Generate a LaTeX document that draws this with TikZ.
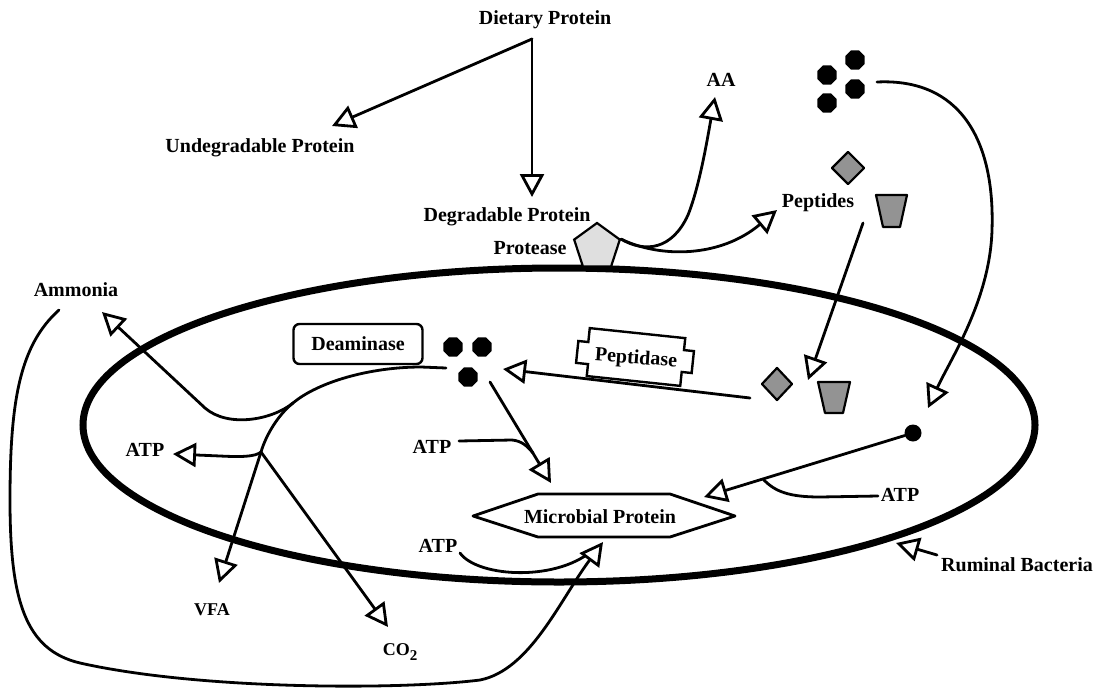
\documentclass[tikz,border=0pt]{standalone}
\usepackage{fontspec}
\setmainfont{Liberation Serif}
\usetikzlibrary{arrows.meta,shapes.geometric}
\begin{document}
\begin{tikzpicture}[x=1pt,y=-1pt,
  lbl/.style={font=\fontsize{20}{22}\selectfont\bfseries, inner sep=0pt},
  sml/.style={font=\fontsize{18}{20}\selectfont\bfseries, inner sep=0pt},
  con/.style={line width=2.8pt, line cap=round, line join=round},
  arr/.style={con, -{Triangle[open,fill=white,length=23pt,width=24pt]}},
  blob/.style={regular polygon, regular polygon sides=8, fill=black, inner sep=0pt, minimum size=21pt},
  grayshape/.style={draw=black, fill=gray!85, line width=2.2pt, line join=round},
]
\useasboundingbox (0,0) rectangle (1099,688);
% membrane
\draw[line width=7pt] (559,425) ellipse [x radius=476pt, y radius=157pt];

% text labels
\node[lbl] (dietary) at (545,20) {Dietary Protein};
\node[lbl] (undeg) at (260,148) {Undegradable Protein};
\node[lbl] (deg) at (507,217) {Degradable Protein};
\node[lbl] (protease) at (530,248) {Protease};
\node[lbl] (aa) at (721,80) {AA};
\node[lbl] (peptides) at (818,203) {Peptides};
\node[lbl] (ammonia) at (76,290) {Ammonia};
\node[lbl, draw, rounded corners=6pt, line width=2.4pt, minimum width=129pt, minimum height=40pt] (deaminase) at (358,344) {Deaminase};
\node[lbl] (atpA) at (145,450) {ATP};
\node[lbl] (atpB) at (432,447) {ATP};
\node[lbl] (atpC) at (900,495) {ATP};
\node[lbl] (atpD) at (438,546) {ATP};
\node[sml] (vfa) at (212,610) {VFA};
\node[sml] (co2) at (400,652) {CO\raisebox{-5pt}{\fontsize{15}{15}\selectfont 2}};
\node[lbl] (rum) at (1017,565) {Ruminal Bacteria};

% coordinates
\coordinate (apex) at (532,39);
\coordinate (undegTip) at (332,126);
\coordinate (degTip) at (532,197);
\coordinate (aaTip) at (715,97);
\coordinate (pepTip) at (777,210);
\coordinate (bigS) at (877,82);
\coordinate (bigTip) at (928,408);
\coordinate (pepS) at (863,223);
\coordinate (pepInTip) at (808,380);
\coordinate (pdS) at (750,398);
\coordinate (eTip) at (503,369);
\coordinate (emS) at (490,382);
\coordinate (mpTop) at (551,483);
\coordinate (mpRT) at (704,497);
\coordinate (mpBot) at (603,542);
\coordinate (ammS) at (59,310);
\coordinate (ammTip) at (102,312);
\coordinate (deS) at (446,368);
\coordinate (br1) at (293,403);
\coordinate (jn) at (261,452);
\coordinate (atpATip) at (173,454);
\coordinate (vfaTip) at (219,583);
\coordinate (co2Tip) at (388,627);
\coordinate (rumS) at (937,555);
\coordinate (rumTip) at (896,543);
\coordinate (aBs) at (459,441);
\coordinate (aCs) at (878,496);
\coordinate (aDs) at (460,553);

% microbial protein hexagon
\draw[con] (473,516) -- (538,494) -- (670,494) -- (735,516) -- (670,537) -- (538,537) -- cycle;
\node[lbl] (micro) at (600,517) {Microbial Protein};

% peptidase
\begin{scope}[shift={(635,357)}, rotate=-6]
\draw[line width=2.4pt, line join=miter] (-48,-24) -- (48,-24) -- (48,-12) -- (58,-12) -- (58,10) -- (48,10) -- (48,24) -- (-46,24) -- (-46,12) -- (-58,12) -- (-58,-10) -- (-48,-10) -- cycle;
\end{scope}
\node[lbl, rotate=-4] (peptidase) at (636,359) {Peptidase};

% connectors
\draw[arr] (apex) -- (undegTip);
\draw[arr] (apex) -- (degTip);

\node[regular polygon, regular polygon sides=5, minimum size=48pt, inner sep=0pt, draw, fill=gray!25, line width=2.2pt] (prot) at (597,247) {};
\draw[arr] (prot.corner 5) .. controls (645,253) and (672,250) .. (688,215) .. controls (700,185) and (708,135) .. (aaTip);
\draw[arr] (prot.corner 5) .. controls (660,258) and (720,258) .. (pepTip);

\draw[arr] (bigS) .. controls (960,78) and (995,140) .. (992,230) .. controls (990,300) and (950,360) .. (bigTip);
\draw[arr] (pepS) -- (pepInTip);
\draw[arr] (pdS) -- (eTip);
\draw[arr] (emS) -- (mpTop);
\draw[con] (aBs) -- (512,440) .. controls (522,441) and (527,446) .. (533,453);

\node[circle, fill=black, inner sep=0pt, minimum size=17pt] (dotin) at (913,433) {};
\draw[arr] (dotin) -- (mpRT);
\draw[con] (aCs) -- (820,497) .. controls (790,497) and (775,492) .. (763,479);

\draw[con] (aDs) .. controls (478,578) and (560,582) .. (595,548);
\draw[arr] (ammS) .. controls (20,345) and (10,400) .. (10,500) .. controls (10,600) and (25,650) .. (80,663) .. controls (200,690) and (400,690) .. (480,680) .. controls (530,670) and (560,600) .. (mpBot);

\draw[con] (deS) -- (421,367) .. controls (370,367) and (318,382) .. (br1);
\draw[arr] (br1) .. controls (272,420) and (228,428) .. (205,408) -- (ammTip);
\draw[con] (br1) .. controls (278,415) and (266,435) .. (jn);
\draw[arr] (jn) .. controls (255,457) and (240,457) .. (220,456) -- (atpATip);
\draw[arr] (jn) -- (vfaTip);
\draw[arr] (jn) -- (co2Tip);
\draw[arr] (rumS) -- (rumTip);

% amino acid dots
\node[blob] (d1) at (827,75) {};
\node[blob] (d2) at (855,60) {};
\node[blob] (d3) at (855,89) {};
\node[blob] (d4) at (827,103) {};
\node[blob] (e1) at (453,347) {};
\node[blob] (e2) at (482,347) {};
\node[blob] (e3) at (468,377) {};

% peptide shapes
\node[diamond, grayshape, minimum width=33pt, minimum height=33pt, inner sep=0pt] (dia1) at (848,168) {};
\node[diamond, grayshape, minimum width=31pt, minimum height=33pt, inner sep=0pt] (dia2) at (777,384) {};
\draw[grayshape] (876,195) -- (907,195) -- (900,227) -- (883,227) -- cycle;
\draw[grayshape] (818,382) -- (850,382) -- (843,413) -- (825,413) -- cycle;
\end{tikzpicture}
\end{document}
